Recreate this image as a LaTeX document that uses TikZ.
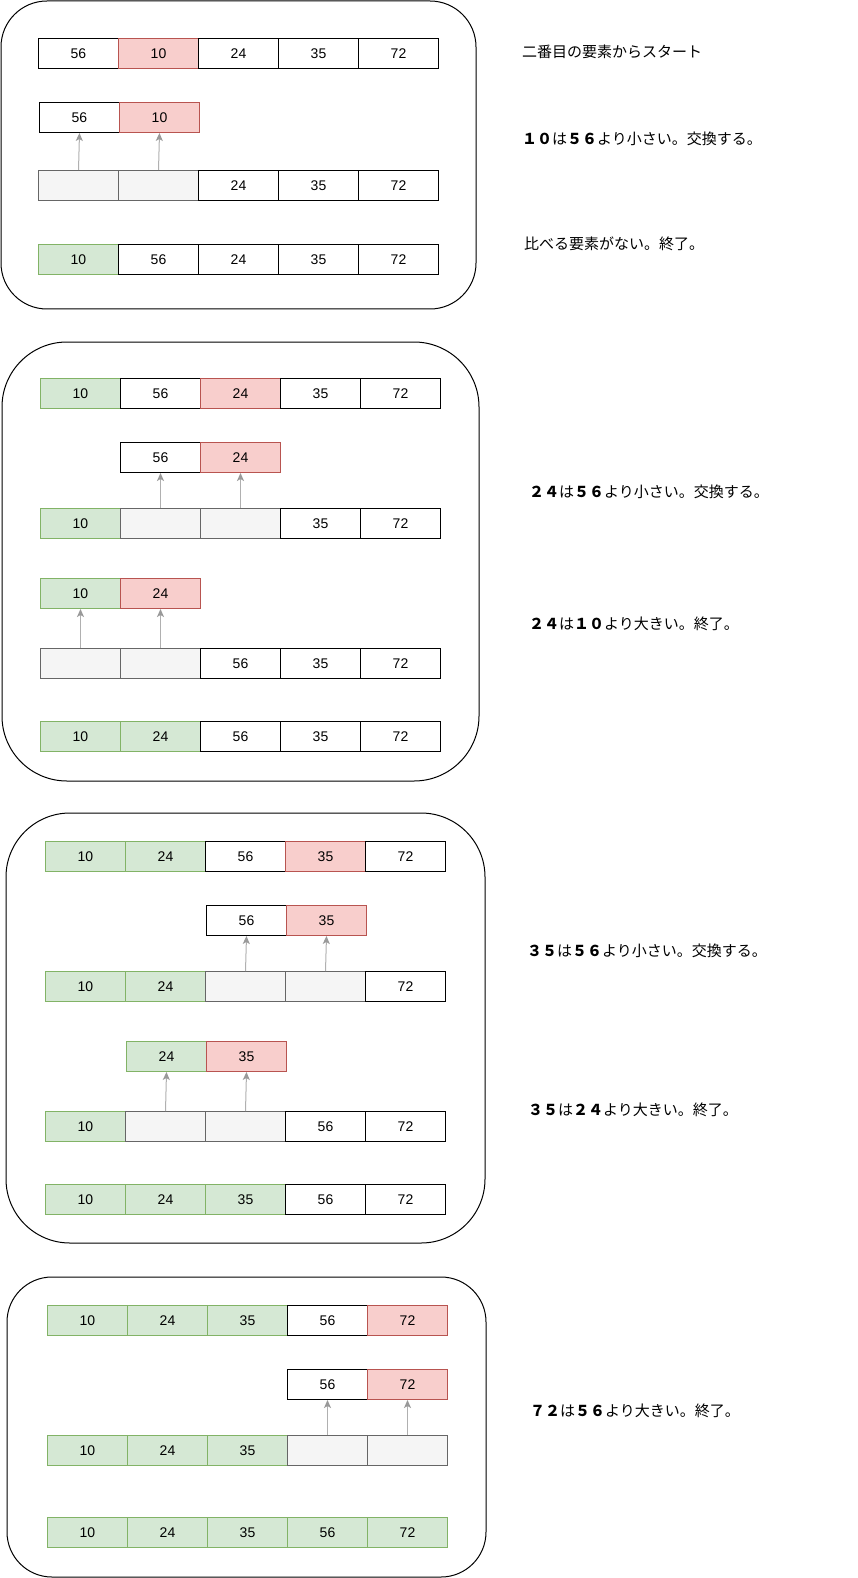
\documentclass[tikz,border=0pt]{standalone}
\usepackage{fontspec}
\setmainfont{Liberation Sans}
\newfontfamily\jp{Noto Sans CJK JP}
\usetikzlibrary{arrows.meta}

\definecolor{redfill}{HTML}{F8CECC}
\definecolor{redline}{HTML}{B85450}
\definecolor{greenfill}{HTML}{D5E8D4}
\definecolor{greenline}{HTML}{82B366}
\definecolor{grayfill}{HTML}{F5F5F5}
\definecolor{grayline}{HTML}{666666}
\definecolor{shaftgray}{HTML}{B0B0B0}
\definecolor{tipgray}{HTML}{999999}

\tikzset{
  cell/.style={draw=black, fill=white, line width=1pt, minimum width=80pt,
    minimum height=30pt, inner sep=0pt, anchor=north west,
    font=\fontsize{14}{14}\selectfont},
  plain/.style={},
  hot/.style={draw=redline, fill=redfill},
  done/.style={draw=greenline, fill=greenfill},
  blank/.style={draw=grayline, fill=grayfill},
  panel/.style={draw=black, line width=1pt, rounded corners=#1},
  note/.style={anchor=west, inner sep=0pt, font=\jp\fontsize{15}{15}\selectfont},
  move/.style={draw=shaftgray, line width=1pt,
    -{Stealth[length=8pt,width=7pt,inset=2pt,color=tipgray]}},
}

% a row of array cells: name prefix, left x, top y, list of style/value
\newcommand\cellrow[4]{%
  \foreach [count=\i] \s/\t in {#4} {%
    \node[cell,\s] (#1\i) at ({#2+80*(\i-1)},#3) {\t};
  }%
}

\begin{document}
\begin{tikzpicture}[x=1pt, y=-1pt]
  \useasboundingbox[fill=white] (0,0) rectangle (858,1578);

  % ---- step 1: insert 10 ----
  \draw[panel=46] (1,1) rectangle (476,309);
  \cellrow{a}{38}{38}{plain/56, hot/10, plain/24, plain/35, plain/72}
  \cellrow{ap}{39}{102}{plain/56, hot/10}
  \cellrow{ab}{38}{170}{blank/{}, blank/{}, plain/24, plain/35, plain/72}
  \cellrow{ae}{38}{244}{done/10, plain/56, plain/24, plain/35, plain/72}
  \draw[move] (ab1.north) -- (ap1.south);
  \draw[move] (ab2.north) -- (ap2.south);

  \node[note] (n1) at (522,52) {二番目の要素からスタート};
  \node[note] (n2) at (522,139) {{\bfseries １０}は{\bfseries ５６}より小さい。交換する。};
  \node[note] (n3) at (524,244) {比べる要素がない。終了。};

  % ---- step 2: insert 24 ----
  \draw[panel=65] (2,342) rectangle (479,781);
  \cellrow{b}{40}{378}{done/10, plain/56, hot/24, plain/35, plain/72}
  \cellrow{bp}{120}{442}{plain/56, hot/24}
  \cellrow{bb}{40}{508}{done/10, blank/{}, blank/{}, plain/35, plain/72}
  \cellrow{bq}{40}{578}{done/10, hot/24}
  \cellrow{bc}{40}{648}{blank/{}, blank/{}, plain/56, plain/35, plain/72}
  \cellrow{be}{40}{721}{done/10, done/24, plain/56, plain/35, plain/72}
  \draw[move] (bb2.north) -- (bp1.south);
  \draw[move] (bb3.north) -- (bp2.south);
  \draw[move] (bc1.north) -- (bq1.south);
  \draw[move] (bc2.north) -- (bq2.south);

  \node[note] (n4) at (529,492) {{\bfseries ２４}は{\bfseries ５６}より小さい。交換する。};
  \node[note] (n5) at (529,624) {{\bfseries ２４}は{\bfseries １０}より大きい。終了。};

  % ---- step 3: insert 35 ----
  \draw[panel=64] (6,813) rectangle (485,1243);
  \cellrow{c}{45}{841}{done/10, done/24, plain/56, hot/35, plain/72}
  \cellrow{cp}{206}{905}{plain/56, hot/35}
  \cellrow{cb}{45}{971}{done/10, done/24, blank/{}, blank/{}, plain/72}
  \cellrow{cq}{126}{1041}{done/24, hot/35}
  \cellrow{cc}{45}{1111}{done/10, blank/{}, blank/{}, plain/56, plain/72}
  \cellrow{ce}{45}{1184}{done/10, done/24, done/35, plain/56, plain/72}
  \draw[move] (cb3.north) -- (cp1.south);
  \draw[move] (cb4.north) -- (cp2.south);
  \draw[move] (cc2.north) -- (cq1.south);
  \draw[move] (cc3.north) -- (cq2.south);

  \node[note] (n6) at (527,951) {{\bfseries ３５}は{\bfseries ５６}より小さい。交換する。};
  \node[note] (n7) at (528,1110) {{\bfseries ３５}は{\bfseries ２４}より大きい。終了。};

  % ---- step 4: insert 72 ----
  \draw[panel=45] (7,1277) rectangle (486,1577);
  \cellrow{d}{47}{1305}{done/10, done/24, done/35, plain/56, hot/72}
  \cellrow{dp}{287}{1369}{plain/56, hot/72}
  \cellrow{db}{47}{1435}{done/10, done/24, done/35, blank/{}, blank/{}}
  \cellrow{de}{47}{1517}{done/10, done/24, done/35, done/56, done/72}
  \draw[move] (db4.north) -- (dp1.south);
  \draw[move] (db5.north) -- (dp2.south);

  \node[note] (n8) at (530,1411) {{\bfseries ７２}は{\bfseries ５６}より大きい。終了。};
\end{tikzpicture}
\end{document}
